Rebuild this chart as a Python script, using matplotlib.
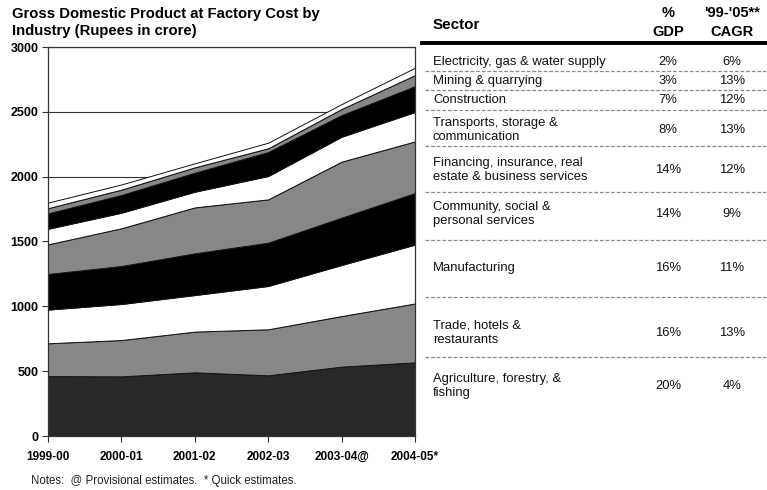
import matplotlib
matplotlib.use("Agg")
import matplotlib.pyplot as plt
from matplotlib.lines import Line2D
import numpy as np

plt.rcParams['font.family'] = ['Liberation Sans', 'DejaVu Sans']

# ---------------- data ----------------
years = ['1999-00', '2000-01', '2001-02', '2002-03', '2003-04@', '2004-05*']

# layers, bottom to top (Rupees in crore)
agriculture   = [462, 460, 491, 468, 535, 568]
trade         = [253, 280, 314, 355, 390, 454]
manufacturing = [260, 278, 282, 334, 394, 454]
community     = [275, 293, 322, 334, 365, 398]
financing     = [228, 291, 354, 334, 432, 398]
transports    = [120, 120, 121, 180, 192, 227]
construction  = [119, 137, 147, 185, 167, 199]
mining        = [40, 41, 41, 29, 47, 85]
electricity   = [43, 40, 31, 43, 38, 57]

layer_colors = ['#282828', '#878787', '#ffffff', '#000000', '#878787',
                '#ffffff', '#000000', '#878787', '#ffffff']

# table (top to bottom)
table_sectors = ['Electricity, gas & water supply', 'Mining & quarrying', 'Construction',
                 'Transports, storage &\ncommunication',
                 'Financing, insurance, real\nestate & business services',
                 'Community, social &\npersonal services', 'Manufacturing',
                 'Trade, hotels &\nrestaurants', 'Agriculture, forestry, &\nfishing']
table_gdp = ['2%', '3%', '7%', '8%', '14%', '14%', '16%', '16%', '20%']
table_cagr = ['6%', '13%', '12%', '13%', '12%', '9%', '11%', '13%', '4%']

y_ticks = [0, 500, 1000, 1500, 2000, 2500, 3000]

# ---------------- figure ----------------
W, H = 767, 490
fig = plt.figure(figsize=(W / 100, H / 100), dpi=100)

def fx(x):
    return x / W

def fy(y):
    return 1 - y / H

ax_l, ax_r, ax_t, ax_b = 48, 415, 47, 436
ax = fig.add_axes([fx(ax_l), fy(ax_b), fx(ax_r - ax_l), (ax_b - ax_t) / H])

layers = [agriculture, trade, manufacturing, community, financing,
          transports, construction, mining, electricity]
x = np.arange(len(years))
base = np.zeros(len(years))
for vals, col in zip(layers, layer_colors):
    top = base + np.array(vals)
    ax.fill_between(x, base, top, facecolor=col, edgecolor='#111111',
                    linewidth=0.7, zorder=2)
    base = top

ax.set_xlim(0, len(years) - 1)
ax.set_ylim(0, 3000)
ax.set_yticks(y_ticks)
ax.set_yticklabels([str(t) for t in y_ticks], fontsize=9, fontweight='bold')
ax.set_xticks(x)
ax.set_xticklabels(years, fontsize=8.5, fontweight='bold')
ax.tick_params(axis='both', direction='out', length=4, width=0.8, color='#333333')
ax.tick_params(axis='x', pad=7)
ax.tick_params(axis='y', pad=3)
ax.yaxis.grid(True, color='#333333', linewidth=0.8, zorder=0)
ax.set_axisbelow(True)
for s in ax.spines.values():
    s.set_color('#333333')
    s.set_linewidth(0.9)
    s.set_zorder(3)

# title and notes
fig.text(fx(12), fy(14), 'Gross Domestic Product at Factory Cost by',
         fontsize=10.7, fontweight='bold', va='center', ha='left')
fig.text(fx(12), fy(31.5), 'Industry (Rupees in crore)',
         fontsize=10.7, fontweight='bold', va='center', ha='left')
fig.text(fx(31), fy(481), 'Notes:  @ Provisional estimates.  * Quick estimates.',
         fontsize=8.3, va='center', ha='left', color='#222222')

# ---------------- table ----------------
col_x = 433
gdp_x = 668
cagr_x = 732
fig.text(fx(col_x), fy(25), 'Sector', fontsize=11, fontweight='bold', va='center', ha='left')
fig.text(fx(gdp_x), fy(13), '%', fontsize=10.5, fontweight='bold', va='center', ha='center')
fig.text(fx(gdp_x), fy(32), 'GDP', fontsize=10.5, fontweight='bold', va='center', ha='center')
fig.text(fx(cagr_x), fy(13), "'99-'05**", fontsize=10.5, fontweight='bold', va='center', ha='center')
fig.text(fx(cagr_x), fy(32), 'CAGR', fontsize=10.5, fontweight='bold', va='center', ha='center')

fig.add_artist(Line2D([fx(422), fx(767)], [fy(43), fy(43)], color='black', linewidth=2.8))

row_centers = [62, 81, 100, 130, 170, 214, 268, 333, 386]
separators = [71.5, 90.5, 110, 146.5, 192, 240, 297, 357]

for yc, name, g, c in zip(row_centers, table_sectors, table_gdp, table_cagr):
    fig.text(fx(col_x), fy(yc), name, fontsize=9.4, va='center', ha='left',
             linespacing=1.25, color='#111111')
    fig.text(fx(gdp_x), fy(yc), g, fontsize=9.4, va='center', ha='center', color='#111111')
    fig.text(fx(cagr_x), fy(yc), c, fontsize=9.4, va='center', ha='center', color='#111111')

for ys in separators:
    fig.add_artist(Line2D([fx(425), fx(766)], [fy(ys), fy(ys)], color='#8a8a8a',
                          linewidth=0.9, linestyle=(0, (3, 1.5))))

fig.savefig('out.png', dpi=100)
